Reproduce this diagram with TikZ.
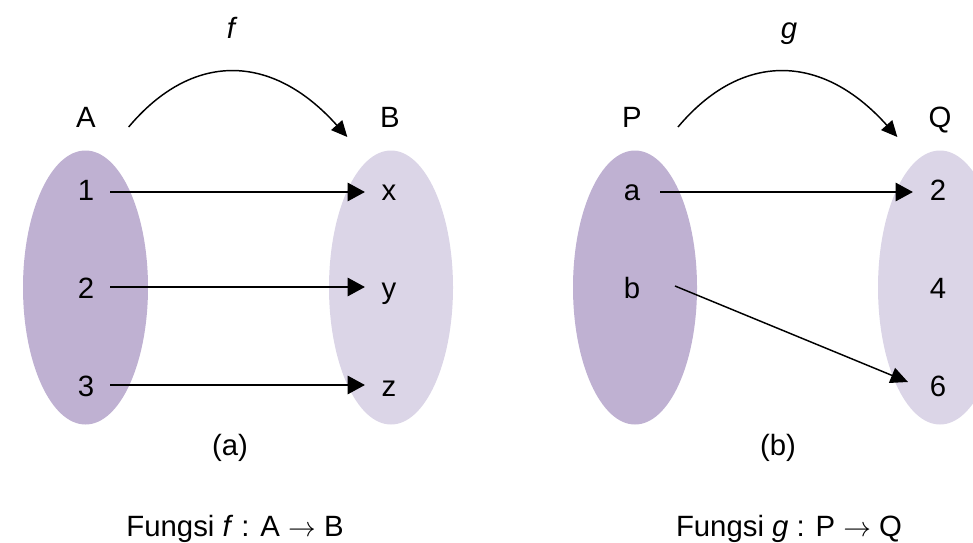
\documentclass[tikz,border=0pt]{standalone}
\usepackage{fontspec}
\setmainfont{Liberation Sans}
\usetikzlibrary{arrows.meta}
\definecolor{setdark}{HTML}{BFB1D2}
\definecolor{setlight}{HTML}{DBD5E7}
\begin{document}
\begin{tikzpicture}[x=0.75pt,y=-0.75pt,
  lbl/.style={inner sep=0pt, text height=15.5pt, text depth=0pt, font=\fontsize{22}{26}\selectfont},
  maparrow/.style={line width=2.1pt, -{Triangle[length=13pt,width=13.5pt]}},
  thinarrow/.style={line width=1.1pt, -{Triangle[length=13pt,width=12pt]}},
  curvearrow/.style={line width=1.1pt, -{Triangle[length=12pt,width=11pt]}}]
\useasboundingbox (0,0) rectangle (973,542);
\clip (0,0) rectangle (973,542);
% sets
\fill[setdark] (85.5,287.5) ellipse [x radius=62.5, y radius=137];
\fill[setlight] (391,287.5) ellipse [x radius=62, y radius=137];
\fill[setdark] (635,287.5) ellipse [x radius=62, y radius=137];
\fill[setlight] (940,287.5) ellipse [x radius=62, y radius=137];
% labels (a)
\node[lbl] (nA) at (86,117) {A};
\node[lbl] (nB) at (390,117) {B};
\node[lbl] (nf) at (231,28) {\itshape f};
\node[lbl] (n1) at (86,190) {1};
\node[lbl] (n2) at (86,288) {2};
\node[lbl] (n3) at (86,386) {3};
\node[lbl] (nx) at (389,190) {x};
\node[lbl] (ny) at (389,288) {y};
\node[lbl] (nz) at (389,386) {z};
\node[lbl] (capa) at (230,445) {(a)};
\node[lbl] (funca) at (235,526) {Fungsi \textit{f} : A $\rightarrow$ B};
% labels (b)
\node[lbl] (nP) at (632,117) {P};
\node[lbl] (nQ) at (940,117) {Q};
\node[lbl] (ng) at (789,28) {\itshape g};
\node[lbl] (na) at (632,190) {a};
\node[lbl] (nb) at (632,288) {b};
\node[lbl] (q2) at (938,190) {2};
\node[lbl] (q4) at (938,288) {4};
\node[lbl] (q6) at (938,386) {6};
\node[lbl] (capb) at (778,445) {(b)};
\node[lbl] (funcb) at (789,526) {Fungsi \textit{g} : P $\rightarrow$ Q};
% arrows (a)
\draw[maparrow] ([xshift=18pt,yshift=-1.5pt]n1.center) -- ([xshift=-18pt,yshift=-1.5pt]nx.center);
\draw[maparrow] ([xshift=18pt,yshift=0.75pt]n2.center) -- ([xshift=-18pt,yshift=0.75pt]ny.center);
\draw[maparrow] ([xshift=18pt,yshift=0.75pt]n3.center) -- ([xshift=-18pt,yshift=0.75pt]nz.center);
% arrows (b)
\draw[maparrow] ([xshift=21pt,yshift=-1.5pt]na.center) -- ([xshift=-18.75pt,yshift=-1.5pt]q2.center);
\draw[thinarrow] ([xshift=32.25pt,yshift=1.5pt]nb.center) -- ([xshift=-22.5pt,yshift=3pt]q6.center);
% curved arrows
\coordinate (fs) at ([xshift=32pt,yshift=-7.5pt]nA.center);
\coordinate (fe) at ([xshift=-32pt,yshift=-15pt]nB.center);
\draw[curvearrow] (fs) .. controls +(63,-75) and +(-76,-85) .. (fe);
\coordinate (gs) at ([xshift=34.5pt,yshift=-7.5pt]nP.center);
\coordinate (ge) at ([xshift=-32pt,yshift=-15pt]nQ.center);
\draw[curvearrow] (gs) .. controls +(63,-75) and +(-76,-85) .. (ge);
\end{tikzpicture}
\end{document}
